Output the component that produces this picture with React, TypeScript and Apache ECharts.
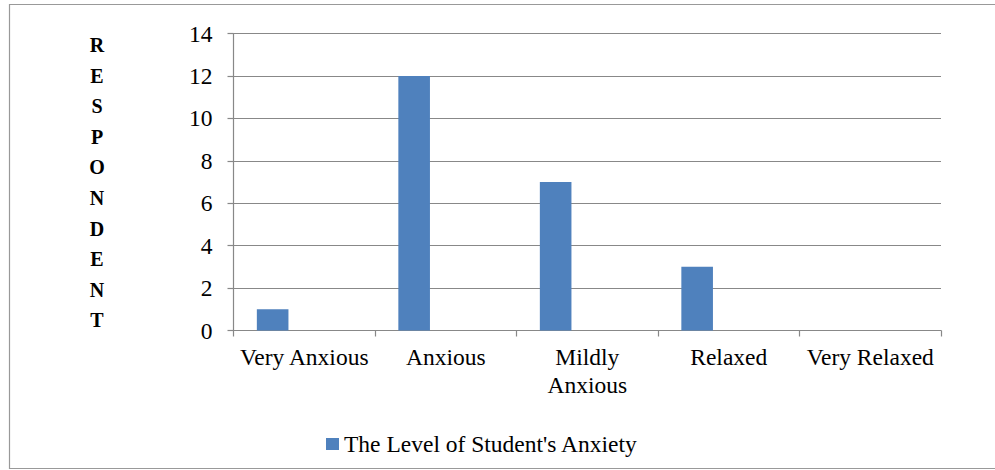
import React, { useEffect, useRef } from "react";
import * as echarts from "echarts";

const categories = ["Very Anxious", "Anxious", "Mildly\nAnxious", "Relaxed", "Very Relaxed"];
const anxietyValues = [1, 12, 7, 3, 0];
const emptyValues: (number | null)[] = [null, null, null, null, null];
const seriesName = "The Level of Student's Anxiety";
const yAxisLetters = ["R", "E", "S", "P", "O", "N", "D", "E", "N", "T"];

const FONT = "Liberation Serif";

export default function App() {
  const ref = useRef<HTMLDivElement>(null);
  useEffect(() => {
    if (!ref.current) return;
    const chart = echarts.init(ref.current, undefined, { renderer: "svg" });
    chart.setOption({
      animation: false,
      backgroundColor: "#fff",
      textStyle: { fontFamily: FONT },
      title: {
        text: yAxisLetters.join("\n"),
        left: 97,
        top: 29.7,
        padding: 0,
        textAlign: "center",
        textStyle: {
          fontFamily: FONT,
          fontSize: 20,
          fontWeight: "bold",
          lineHeight: 30.6,
          color: "#000",
          width: 20,
          align: "center",
        },
      },
      grid: { left: 233.5, right: 54, top: 33.5, bottom: 139.5, containLabel: false },
      xAxis: {
        type: "category",
        data: categories,
        axisLine: { show: true, lineStyle: { color: "#888", width: 1.2 } },
        axisTick: { show: true, length: 6, lineStyle: { color: "#888", width: 1.2 } },
        axisLabel: {
          color: "#000",
          fontFamily: FONT,
          fontSize: 23.5,
          lineHeight: 28,
          margin: 12.5,
          interval: 0,
        },
        splitLine: { show: false },
      },
      yAxis: {
        type: "value",
        min: 0,
        max: 14,
        interval: 2,
        axisLine: { show: true, lineStyle: { color: "#888", width: 1.2 } },
        axisTick: { show: true, length: 6, lineStyle: { color: "#888", width: 1.2 } },
        axisLabel: { color: "#000", fontFamily: FONT, fontSize: 23.5, margin: 21 },
        splitLine: { show: true, lineStyle: { color: "#888", width: 1.2 } },
      },
      legend: {
        data: [seriesName],
        left: 321,
        top: 427,
        icon: "rect",
        itemWidth: 13,
        itemHeight: 12,
        textStyle: { color: "#000", fontFamily: FONT, fontSize: 23.5 },
      },
      series: [
        {
          name: seriesName,
          type: "bar",
          data: anxietyValues,
          itemStyle: { color: "#4F81BD" },
          barGap: "0%",
          barCategoryGap: "33%",
        },
        { name: "s2", type: "bar", data: emptyValues, barGap: "0%", barCategoryGap: "33%" },
        { name: "s3", type: "bar", data: emptyValues, barGap: "0%", barCategoryGap: "33%" },
      ],
      graphic: [
        {
          type: "rect",
          shape: { x: 9.5, y: 4.5, width: 995, height: 464 },
          style: { fill: "none", stroke: "#999", lineWidth: 1.2 },
          silent: true,
        },
      ],
    });
    return () => chart.dispose();
  }, []);
  return (
    <div
      ref={ref}
      style={{ position: "fixed", left: 0, top: 0, width: 995, height: 470 }}
    />
  );
}
